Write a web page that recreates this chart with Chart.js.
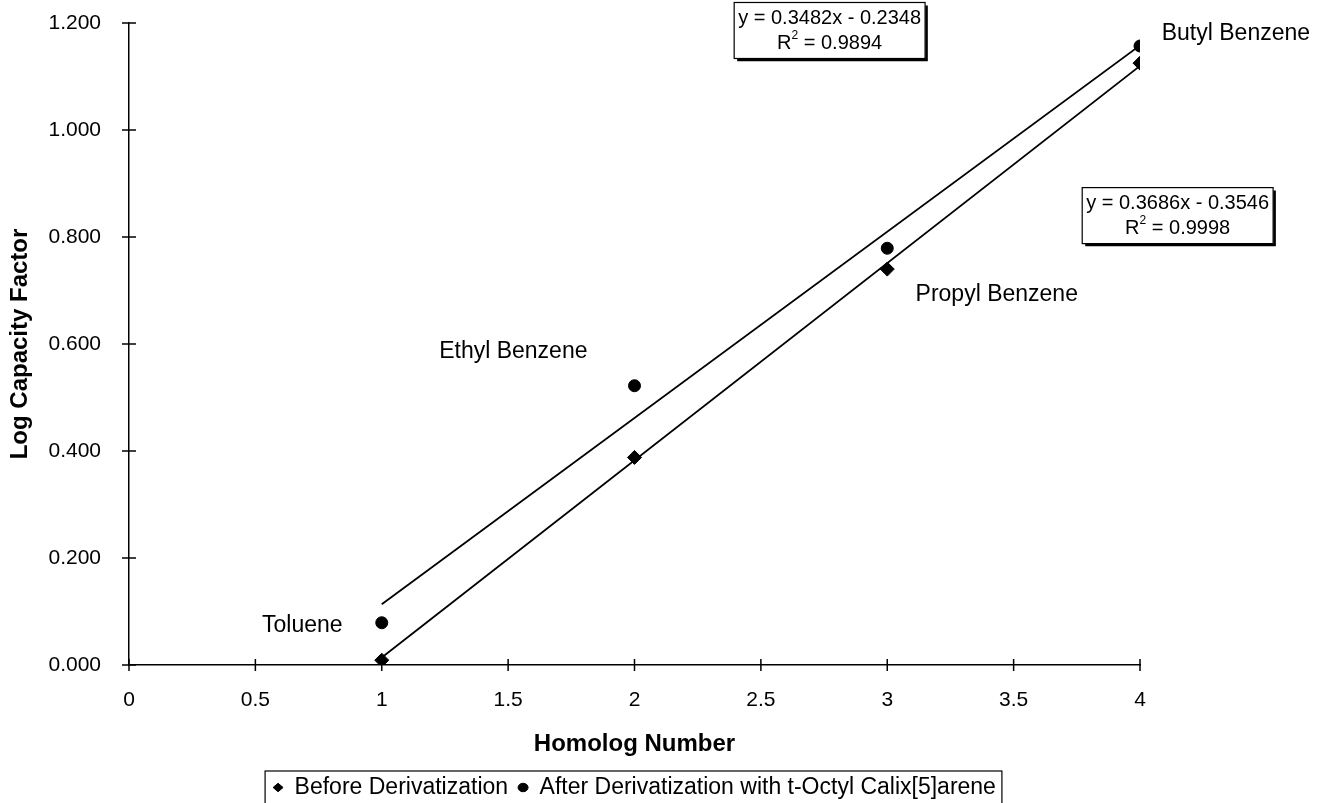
<!DOCTYPE html>
<html>
<head>
<meta charset="utf-8">
<script src="https://cdn.jsdelivr.net/npm/chart.js@4.4.1/dist/chart.umd.min.js"></script>
<style>
  html, body { margin: 0; padding: 0; background: #fff; }
  #wrap { width: 1323px; height: 803px; position: relative; }
</style>
</head>
<body>
<div id="wrap"><canvas id="c" width="1323" height="803"></canvas></div>
<script>
// ---- data ----
const homologNumbers = [1, 2, 3, 4];
const compounds = ["Toluene", "Ethyl Benzene", "Propyl Benzene", "Butyl Benzene"];
const beforeValues = [0.009, 0.388, 0.740, 1.125];
const afterValues = [0.079, 0.522, 0.779, 1.157];
const seriesNames = ["Before Derivatization", "After Derivatization with t-Octyl Calix[5]arene"];
const beforeFit = { slope: 0.3686, intercept: -0.3546, r2: 0.9998 };
const afterFit = { slope: 0.3482, intercept: -0.2348, r2: 0.9894 };
const xTicks = [0, 0.5, 1, 1.5, 2, 2.5, 3, 3.5, 4];
const yTicks = [0, 0.2, 0.4, 0.6, 0.8, 1.0, 1.2];

const FONT = "'Liberation Sans', Arial, sans-serif";
const TICK_FS = 21;
const LABEL_FS = 23;
const TITLE_FS = 24;
const EQ_FS = 20;

function pts(xs, ys) { return xs.map((x, i) => ({ x: x, y: ys[i] })); }
function fitLine(fit) {
  const x0 = homologNumbers[0], x1 = homologNumbers[homologNumbers.length - 1];
  return [{ x: x0, y: fit.slope * x0 + fit.intercept }, { x: x1, y: fit.slope * x1 + fit.intercept }];
}
function eqText(fit) {
  return "y = " + fit.slope.toFixed(4) + "x - " + Math.abs(fit.intercept).toFixed(4);
}

// label placement (layout, in data units)
const compoundLabelPos = [
  { x: 0.845, y: 0.073, align: "right" },
  { x: 1.814, y: 0.585, align: "right" },
  { x: 3.112, y: 0.692, align: "left" },
  { x: 4.086, y: 1.181, align: "left" }
];
const eqBoxPos = [
  { fit: afterFit, x: 2.772, y: 1.186 },
  { fit: beforeFit, x: 4.149, y: 0.84 }
];

const crossTicks = {
  id: "crossTicks",
  afterDatasetsDraw(chart) {
    const ctx = chart.ctx, xs = chart.scales.x, ys = chart.scales.y;
    ctx.save();
    ctx.strokeStyle = "#000"; ctx.lineWidth = 1.5;
    xTicks.forEach(v => {
      const px = xs.getPixelForValue(v);
      ctx.beginPath(); ctx.moveTo(px, ys.bottom - 6); ctx.lineTo(px, ys.bottom + 6); ctx.stroke();
    });
    yTicks.forEach(v => {
      const py = ys.getPixelForValue(v);
      ctx.beginPath(); ctx.moveTo(xs.left - 7, py); ctx.lineTo(xs.left + 7, py); ctx.stroke();
    });
    ctx.restore();
  }
};

const annotations = {
  id: "annotations",
  afterDraw(chart) {
    const ctx = chart.ctx, xs = chart.scales.x, ys = chart.scales.y;
    ctx.save();
    ctx.fillStyle = "#000";
    ctx.font = LABEL_FS + "px " + FONT;
    ctx.textBaseline = "middle";
    compounds.forEach((name, i) => {
      const p = compoundLabelPos[i];
      ctx.textAlign = p.align;
      ctx.fillText(name, xs.getPixelForValue(p.x), ys.getPixelForValue(p.y));
    });
    // equation boxes
    eqBoxPos.forEach(b => {
      const cx = xs.getPixelForValue(b.x), cy = ys.getPixelForValue(b.y);
      const l1 = eqText(b.fit);
      const rA = "R", rB = " = " + b.fit.r2.toFixed(4);
      ctx.font = EQ_FS + "px " + FONT;
      const w1 = ctx.measureText(l1).width;
      const wR = ctx.measureText(rA).width, wB = ctx.measureText(rB).width;
      const supFont = Math.round(EQ_FS * 0.62) + "px " + FONT;
      ctx.font = supFont;
      const wS = ctx.measureText("2").width;
      const lh = EQ_FS + 5;
      const bw = w1 + 8, bh = lh * 2 + 6;
      const bx = cx - bw / 2, by = cy - bh / 2;
      ctx.fillStyle = "#fff";
      ctx.fillRect(bx, by, bw, bh);
      ctx.strokeStyle = "#000"; ctx.lineWidth = 1.2;
      ctx.strokeRect(bx, by, bw, bh);
      ctx.lineWidth = 2.5;
      ctx.beginPath(); ctx.moveTo(bx + 3, by + bh + 1.5); ctx.lineTo(bx + bw + 1.5, by + bh + 1.5); ctx.lineTo(bx + bw + 1.5, by + 3); ctx.stroke();
      ctx.fillStyle = "#000";
      ctx.font = EQ_FS + "px " + FONT;
      ctx.textAlign = "center";
      ctx.fillText(l1, cx, by + 3 + lh / 2);
      const tw = wR + wS + wB;
      const sx = cx - tw / 2;
      const y2 = by + 3 + lh * 1.5;
      ctx.textAlign = "left";
      ctx.fillText(rA, sx, y2);
      ctx.font = supFont;
      ctx.fillText("2", sx + wR, y2 - EQ_FS * 0.35);
      ctx.font = EQ_FS + "px " + FONT;
      ctx.fillText(rB, sx + wR + wS, y2);
    });
    // legend border
    const lg = chart.legend;
    if (lg && lg.legendHitBoxes && lg.legendHitBoxes.length) {
      const hb = lg.legendHitBoxes;
      const left = Math.min(...hb.map(h => h.left)) - 8;
      const right = Math.max(...hb.map(h => h.left + h.width)) + 6;
      const top = Math.min(...hb.map(h => h.top)) - 5;
      const bottom = Math.max(...hb.map(h => h.top + h.height)) + 8;
      ctx.strokeStyle = "#000"; ctx.lineWidth = 1.2;
      ctx.strokeRect(left, top, right - left, bottom - top);
    }
    ctx.restore();
  }
};

new Chart(document.getElementById("c"), {
  type: "scatter",
  data: {
    datasets: [
      { label: seriesNames[0], data: pts(homologNumbers, beforeValues), pointStyle: "rectRot",
        pointRadius: 7, backgroundColor: "#000", borderColor: "#000", showLine: false, order: 1 },
      { label: seriesNames[1], data: pts(homologNumbers, afterValues), pointStyle: "circle",
        pointRadius: 6, backgroundColor: "#000", borderColor: "#000", showLine: false, order: 1 },
      { label: "fitBefore", data: fitLine(beforeFit), showLine: true, pointRadius: 0,
        borderColor: "#000", borderWidth: 1.8, order: 2 },
      { label: "fitAfter", data: fitLine(afterFit), showLine: true, pointRadius: 0,
        borderColor: "#000", borderWidth: 1.8, order: 2 }
    ]
  },
  options: {
    responsive: false,
    animation: false,
    layout: { padding: { left: 0, right: 183, top: 23, bottom: 0 } },
    scales: {
      x: {
        type: "linear", min: 0, max: 4,
        afterBuildTicks: s => { s.ticks = xTicks.map(v => ({ value: v })); },
        afterFit: s => { s.height = 101; },
        grid: { display: false },
        border: { display: true, color: "#000", width: 1.5 },
        ticks: { color: "#000", font: { family: FONT, size: TICK_FS }, padding: 15,
                 callback: v => String(v) },
        title: { display: true, text: "Homolog Number", color: "#000",
                 font: { family: FONT, size: TITLE_FS, weight: "bold" }, padding: { top: 0, bottom: 7 } }
      },
      y: {
        type: "linear", min: 0, max: 1.2,
        afterBuildTicks: s => { s.ticks = yTicks.map(v => ({ value: v })); },
        afterFit: s => { s.width = 129; s.paddingTop = 0; s.paddingBottom = 0; },
        grid: { display: false },
        border: { display: true, color: "#000", width: 1.5 },
        ticks: { color: "#000", font: { family: FONT, size: TICK_FS }, padding: 20,
                 callback: v => Number(v).toFixed(3) },
        title: { display: true, text: "Log Capacity Factor", color: "#000",
                 font: { family: FONT, size: TITLE_FS, weight: "bold" }, padding: { top: 6, bottom: 0 } }
      }
    },
    plugins: {
      legend: {
        position: "bottom", fullSize: false, maxHeight: 37,
        labels: {
          filter: item => item.datasetIndex < 2,
          usePointStyle: true, pointStyleWidth: 10, boxHeight: 6,
          color: "#000", font: { family: FONT, size: LABEL_FS }, padding: 10
        }
      },
      tooltip: { enabled: false }
    }
  },
  plugins: [crossTicks, annotations]
});
</script>
</body>
</html>
